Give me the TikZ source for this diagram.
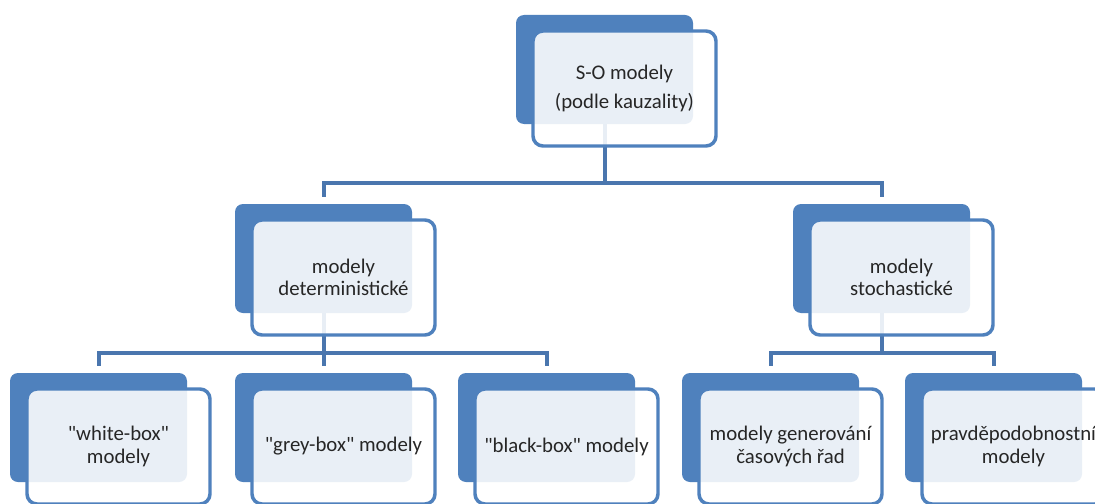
\documentclass[tikz,border=0pt]{standalone}
\usepackage{fontspec}
\setmainfont{Carlito}[Ligatures=TeXOff]
\usetikzlibrary{calc,backgrounds}
\definecolor{bblue}{HTML}{4F81BD}
\definecolor{lblue}{HTML}{4A76AE}
\begin{document}
\begin{tikzpicture}[x=0.75pt,y=-0.75pt,
  backbox/.style={fill=bblue, rounded corners=6pt, minimum width=132.75pt, minimum height=81.75pt, inner sep=0pt, draw=none},
  frontbox/.style={draw=bblue, line width=2.6pt, fill=white, fill opacity=0.88, text opacity=1, rounded corners=7.5pt, minimum width=137.25pt, minimum height=86.25pt, inner sep=0pt, align=center, font=\fontsize{15.6}{16.8}\selectfont, text=black!85},
  conn/.style={draw=lblue, line width=3pt}
]
\useasboundingbox (0,0) rectangle (1095,503);

% back blocks
\node[backbox] (tb)  at (604.5,69.5) {};
\node[backbox] (mlb) at (323.5,258.5) {};
\node[backbox] (mrb) at (881.5,258.5) {};
\node[backbox] (b1b) at (98.5,427.5) {};
\node[backbox] (b2b) at (323.5,427.5) {};
\node[backbox] (b3b) at (546.5,427.5) {};
\node[backbox] (b4b) at (770.5,427.5) {};
\node[backbox] (b5b) at (993.5,427.5) {};

% front blocks
\node[frontbox] (tf)  at (624.5,88.5) {S-O modely\\[5pt](podle kauzality)};
\node[frontbox] (mlf) at (343.5,277.5) {modely\\deterministické};
\node[frontbox] (mrf) at (901.5,277.5) {modely\\stochastické};
\node[frontbox] (b1f) at (118.5,446.5) {"white-box"\\modely};
\node[frontbox] (b2f) at (343.5,446.5) {"grey-box" modely};
\node[frontbox] (b3f) at (566.5,446.5) {"black-box" modely};
\node[frontbox] (b4f) at (790.5,446.5) {modely generování\\časových řad};
\node[frontbox] (b5f) at (1013.5,446.5) {pravděpodobnostní\\modely};

% connectors
\coordinate (jT) at (604.5,183);
\coordinate (jL) at (323.5,353);
\coordinate (jR) at (881.5,353);
\begin{pgfonlayer}{background}
\fill[white] (0,0) rectangle (1095,503);
\draw[conn] (tb.south) -- (jT);
\draw[conn] ($(mlb.north)+(0,-7)$) |- (jT) -| ($(mrb.north)+(0,-7)$);
\draw[conn] (mlb.south) -- (jL);
\draw[conn] ($(b1b.north)+(0,-7)$) |- (jL) -| ($(b3b.north)+(0,-7)$);
\draw[conn] (jL) -- ($(b2b.north)+(0,-7)$);
\draw[conn] (mrb.south) -- (jR);
\draw[conn] ($(b4b.north)+(0,-7)$) |- (jR) -| ($(b5b.north)+(0,-7)$);
\end{pgfonlayer}
\end{tikzpicture}
\end{document}
